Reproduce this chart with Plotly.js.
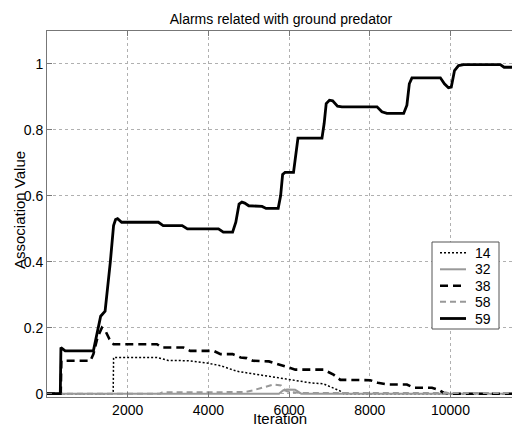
<!DOCTYPE html>
<html>
<head>
<meta charset="utf-8">
<script src="https://cdn.plot.ly/plotly-3.0.1.min.js"></script>
<style>html,body{margin:0;padding:0;background:#fff;}#chart{width:512px;height:426px;}</style>
</head>
<body>
<div id="chart"></div>
<script>
// Series 14 (dotted black)
const x14 = [0, 1640, 1650, 2725, 3000, 3500, 3965, 4300, 4710, 5100, 5530, 5990, 6525, 6850, 7100, 7270, 7350, 11525];
const y14 = [0, 0, 0.11, 0.11, 0.101, 0.1, 0.093, 0.085, 0.068, 0.06, 0.053, 0.043, 0.033, 0.03, 0.018, 0.008, 0, 0];
// Series 32 (solid gray)
const x32 = [0, 5750, 5850, 5950, 6150, 6250, 6300, 11525];
const y32 = [0, 0, 0.01, 0.013, 0.012, 0.003, 0, 0];
// Series 38 (dashed black)
const x38 = [0, 340, 355, 450, 1075, 1150, 1250, 1360, 1450, 1550, 1650, 2725, 2850, 3380, 3550, 4130, 4300, 4600, 4800, 4950, 5100, 5500, 5700, 5865, 6050, 6155, 6855, 7100, 7270, 8010, 8200, 8460, 8920, 9085, 9540, 9700, 9830, 10000, 11525];
const y38 = [0, 0, 0.1, 0.1, 0.1, 0.12, 0.17, 0.2, 0.19, 0.165, 0.15, 0.15, 0.14, 0.14, 0.13, 0.13, 0.12, 0.12, 0.11, 0.108, 0.1, 0.098, 0.09, 0.083, 0.076, 0.073, 0.073, 0.058, 0.042, 0.041, 0.033, 0.028, 0.028, 0.018, 0.018, 0.012, 0.003, 0, 0];
// Series 58 (dashed gray)
const x58 = [0, 2800, 2850, 3500, 4500, 4900, 5100, 5370, 5620, 5800, 5900, 6000, 6300, 11525];
const y58 = [0, 0, 0.004, 0.004, 0.003, 0.005, 0.01, 0.019, 0.028, 0.025, 0.01, 0.005, 0.002, 0.002];
// Series 59 (solid black)
const x59 = [0, 330, 345, 450, 1150, 1260, 1330, 1440, 1530, 1570, 1650, 1700, 1750, 1850, 2760, 2880, 3350, 3480, 4250, 4370, 4600, 4680, 4760, 4830, 4900, 5000, 5330, 5430, 5730, 5790, 5840, 5900, 6110, 6170, 6220, 6815, 6870, 6920, 7000, 7080, 7200, 7310, 8180, 8300, 8425, 8840, 8920, 8980, 9045, 9750, 9850, 9950, 10020, 10100, 10200, 10325, 11235, 11330, 11525];
const y59 = [0, 0, 0.14, 0.13, 0.13, 0.2, 0.235, 0.25, 0.35, 0.4, 0.51, 0.528, 0.531, 0.52, 0.52, 0.51, 0.51, 0.5, 0.5, 0.49, 0.49, 0.52, 0.575, 0.581, 0.578, 0.57, 0.568, 0.562, 0.562, 0.6, 0.665, 0.671, 0.671, 0.72, 0.775, 0.775, 0.82, 0.88, 0.89, 0.888, 0.872, 0.87, 0.87, 0.855, 0.85, 0.85, 0.875, 0.94, 0.958, 0.958, 0.94, 0.928, 0.93, 0.98, 0.995, 0.998, 0.998, 0.99, 0.99];

const seriesNames = ['14', '32', '38', '58', '59'];
const xTicks = [2000, 4000, 6000, 8000, 10000];
const yTicks = [0, 0.2, 0.4, 0.6, 0.8, 1];
const yTickText = ['0', '0.2', '0.4', '0.6', '0.8', '1'];

const FONT = 'Liberation Sans, Arial, Helvetica, sans-serif';
const W = 512, H = 426, ML = 47, MR = 0, MT = 31, MB = 29;
const PW = W - ML - MR, PH = H - MT - MB;
const px = v => (v - ML) / PW;          // pixel x -> paper x
const py = v => (H - MB - v) / PH;      // pixel y -> paper y

const styles = [
  {color: '#000', width: 1.5, dash: '2px,2px'},
  {color: '#999', width: 2},
  {color: '#000', width: 2.6, dash: '8px,5px'},
  {color: '#999', width: 2, dash: '6px,4px'},
  {color: '#000', width: 2.8}
];
const xs = [x14, x32, x38, x58, x59];
const ys = [y14, y32, y38, y58, y59];

const traces = seriesNames.map((n, i) => ({
  x: xs[i], y: ys[i], name: n, mode: 'lines', line: styles[i], showlegend: false
}));

// Legend drawn as box + sample lines + labels (styled like the original figure legend)
const legBox = {x0: 432, x1: 499, y0: 242, y1: 329};
const legRowY = [252.7, 269.3, 285.7, 301.7, 318.5];
const shapes = [{type: 'rect', xref: 'paper', yref: 'paper',
  x0: px(legBox.x0), x1: px(legBox.x1), y0: py(legBox.y1), y1: py(legBox.y0),
  fillcolor: '#fff', line: {color: '#555', width: 1}, layer: 'above'}];
const annotations = [];
seriesNames.forEach((n, i) => {
  shapes.push({type: 'line', xref: 'paper', yref: 'paper', x0: px(440), x1: px(466),
    y0: py(legRowY[i]), y1: py(legRowY[i]), line: styles[i], layer: 'above'});
  annotations.push({text: n, xref: 'paper', yref: 'paper', x: px(473), y: py(legRowY[i]),
    xanchor: 'left', yanchor: 'middle', showarrow: false,
    font: {family: FONT, size: 14, color: '#000'}});
});
annotations.push(
  {text: 'Association Value', xref: 'paper', yref: 'paper', x: px(19), y: py(210),
   xanchor: 'center', yanchor: 'middle', textangle: -90, showarrow: false,
   font: {family: FONT, size: 15, color: '#000'}},
  {text: 'Iteration', xref: 'paper', yref: 'paper', x: px(280), y: py(418),
   xanchor: 'center', yanchor: 'middle', showarrow: false,
   font: {family: FONT, size: 15, color: '#000'}}
);

const layout = {
  width: W, height: H,
  margin: {l: ML, r: MR, t: MT, b: MB, pad: 0},
  paper_bgcolor: '#fff', plot_bgcolor: '#fff',
  font: {family: FONT, size: 14, color: '#000'},
  title: {text: 'Alarms related with ground predator', font: {family: FONT, size: 14, color: '#000'},
          xref: 'container', x: 281/W, xanchor: 'center', yref: 'container', y: 1 - 19.5/H, yanchor: 'middle'},
  showlegend: false,
  xaxis: {range: [0, 11525], tickvals: xTicks, ticktext: xTicks.map(String),
          showgrid: true, gridcolor: '#b0b0b0', griddash: 'dot', gridwidth: 1,
          showline: true, linecolor: '#777', linewidth: 1, mirror: 'ticks',
          ticks: 'inside', ticklen: 5, tickcolor: '#777', zeroline: false,
          tickfont: {family: FONT, size: 14, color: '#000'}},
  yaxis: {range: [-0.01, 1.1], tickvals: yTicks, ticktext: yTickText,
          showgrid: true, gridcolor: '#b0b0b0', griddash: 'dot', gridwidth: 1,
          showline: true, linecolor: '#777', linewidth: 1, mirror: false,
          ticks: 'inside', ticklen: 5, tickcolor: '#777', zeroline: false,
          tickfont: {family: FONT, size: 14, color: '#000'}},
  shapes: shapes,
  annotations: annotations
};

Plotly.newPlot('chart', traces, layout, {displayModeBar: false, staticPlot: true});
</script>
</body>
</html>
